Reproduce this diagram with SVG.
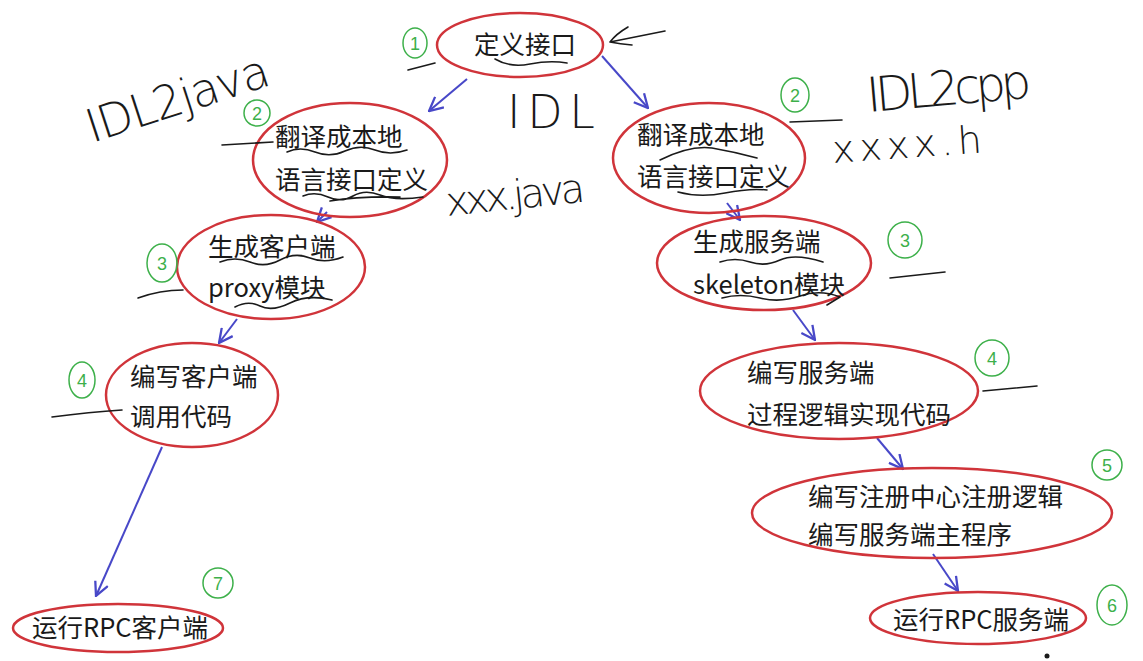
<svg xmlns="http://www.w3.org/2000/svg" width="1143" height="661" viewBox="0 0 1143 661">
<defs>
<marker id="ah" markerUnits="userSpaceOnUse" markerWidth="16" markerHeight="16" viewBox="0 0 14 14" refX="13" refY="7" orient="auto">
<path d="M1,1 L13,7 L1,13" fill="none" stroke="#4848c8" stroke-width="2"/>
</marker>
<style>
.node ellipse{fill:none;stroke:#d0343a;stroke-width:2.5}
.node text{font-family:"Noto Sans CJK SC","Microsoft YaHei",sans-serif;font-size:25.5px;fill:#1a1a1a}
.conn line{stroke:#4848c8;stroke-width:2;marker-end:url(#ah)}
.num ellipse{fill:none;stroke:#3db04a;stroke-width:1.5}
.num text{font-family:"Liberation Sans",sans-serif;font-size:18px;fill:#3db04a;text-anchor:middle}
.ink{fill:none;stroke:#1a1a1a;stroke-width:1.6;stroke-linecap:round;stroke-linejoin:round}
.hw{font-family:"DejaVu Sans",sans-serif;font-weight:200;fill:#1a1a1a}
</style>
</defs>
<rect width="1143" height="661" fill="#ffffff"/>

<g id="connectors" class="conn">
<line x1="467" y1="79" x2="429" y2="111"/>
<line x1="602" y1="56" x2="648" y2="108"/>
<line x1="327" y1="212" x2="317" y2="222"/>
<line x1="727" y1="203" x2="740" y2="220"/>
<line x1="237" y1="319" x2="219" y2="343"/>
<line x1="793" y1="310" x2="815" y2="340"/>
<line x1="162" y1="447" x2="96" y2="596"/>
<line x1="877" y1="438" x2="903" y2="469"/>
<line x1="933" y1="554" x2="958" y2="591"/>
</g>

<g id="n1" class="node"><ellipse cx="520" cy="45" rx="83" ry="32"/><text x="474" y="54">定义接口</text></g>
<g id="n2l" class="node"><ellipse cx="350" cy="160" rx="97" ry="57"/><text x="275" y="146">翻译成本地</text><text x="275" y="189">语言接口定义</text></g>
<g id="n2r" class="node"><ellipse cx="709" cy="158" rx="96" ry="55"/><text x="637" y="144">翻译成本地</text><text x="637" y="186">语言接口定义</text></g>
<g id="n3l" class="node"><ellipse cx="271" cy="267" rx="94" ry="52"/><text x="208" y="256">生成客户端</text><text x="208" y="297">proxy模块</text></g>
<g id="n3r" class="node"><ellipse cx="764" cy="263" rx="107" ry="47"/><text x="693" y="251">生成服务端</text><text x="693" y="294">skeleton模块</text></g>
<g id="n4l" class="node"><ellipse cx="192" cy="395" rx="86" ry="52"/><text x="130" y="386">编写客户端</text><text x="130" y="426">调用代码</text></g>
<g id="n4r" class="node"><ellipse cx="839" cy="391" rx="139" ry="48"/><text x="747" y="382">编写服务端</text><text x="747" y="424">过程逻辑实现代码</text></g>
<g id="n5r" class="node"><ellipse cx="932" cy="513" rx="180" ry="45"/><text x="808" y="506">编写注册中心注册逻辑</text><text x="808" y="544">编写服务端主程序</text></g>
<g id="n7l" class="node"><ellipse cx="118" cy="628" rx="105" ry="24"/><text x="32" y="637">运行RPC客户端</text></g>
<g id="n6r" class="node"><ellipse cx="978" cy="618" rx="108" ry="26"/><text x="893" y="629">运行RPC服务端</text></g>

<g id="numbers" class="num">
<ellipse cx="415" cy="43" rx="12" ry="15"/><text x="415" y="50">1</text>
<ellipse cx="257" cy="113" rx="13" ry="13"/><text x="257" y="120">2</text>
<ellipse cx="795" cy="95" rx="14" ry="17"/><text x="795" y="102">2</text>
<ellipse cx="162" cy="263" rx="15" ry="19"/><text x="162" y="270">3</text>
<ellipse cx="905" cy="240" rx="17" ry="18"/><text x="905" y="247">3</text>
<ellipse cx="82" cy="380" rx="13" ry="18"/><text x="82" y="387">4</text>
<ellipse cx="992" cy="358" rx="17" ry="18"/><text x="992" y="365">4</text>
<ellipse cx="1107" cy="465" rx="15" ry="15"/><text x="1107" y="472">5</text>
<ellipse cx="1112" cy="605" rx="15" ry="20"/><text x="1112" y="612">6</text>
<ellipse cx="218" cy="583" rx="15" ry="15"/><text x="218" y="590">7</text>
</g>

<g id="annotations">
<path class="ink" d="M408,70 L435,63"/>
<path class="ink" d="M222,145 L273,142"/>
<path class="ink" d="M790,122 L842,120"/>
<path class="ink" d="M138,298 Q160,290 183,290"/>
<path class="ink" d="M890,278 L945,272"/>
<path class="ink" d="M52,417 Q90,412 122,410"/>
<path class="ink" d="M983,391 L1037,386"/>
<path class="ink" d="M665,31 Q640,36 610,42 M628,27 Q616,34 610,42 Q620,44 632,45"/>
<path class="ink" d="M495,59 Q510,68 530,64 T567,63"/>
<path class="ink" d="M287,152 Q300,146 315,152 T345,151 T375,150 T407,150"/>
<path class="ink" d="M303,196 Q315,191 328,197 T353,196 T380,195 T423,197 M330,201 Q360,196 400,197"/>
<path class="ink" d="M660,160 Q690,145 712,148 Q735,152 757,158"/>
<path class="ink" d="M678,192 Q700,198 725,193 T767,190"/>
<path class="ink" d="M220,262 Q235,256 250,262 T280,260 T310,258 T343,257"/>
<path class="ink" d="M235,307 Q248,300 260,306 T290,303 T332,300"/>
<path class="ink" d="M720,262 Q735,257 750,262 T780,260 T823,262"/>
<path class="ink" d="M722,298 Q740,293 760,298 T800,296 T840,297 L827,305"/>
<circle cx="1047" cy="656" r="2.5" fill="#1a1a1a"/>
<text class="hw" x="92" y="143" font-size="46" textLength="190" transform="rotate(-18 92 143)">IDL2java</text>
<text class="hw" x="507" y="128" font-size="46" textLength="88">IDL</text>
<text class="hw" x="447" y="216" font-size="40" textLength="140" transform="rotate(-6 447 216)">xxx.java</text>
<text class="hw" x="868" y="112" font-size="48" textLength="165" transform="rotate(-5 868 112)">IDL2cpp</text>
<text class="hw" x="833" y="163" font-size="38" textLength="150" transform="rotate(-4 833 163)">xxxx.h</text>
</g>
</svg>
